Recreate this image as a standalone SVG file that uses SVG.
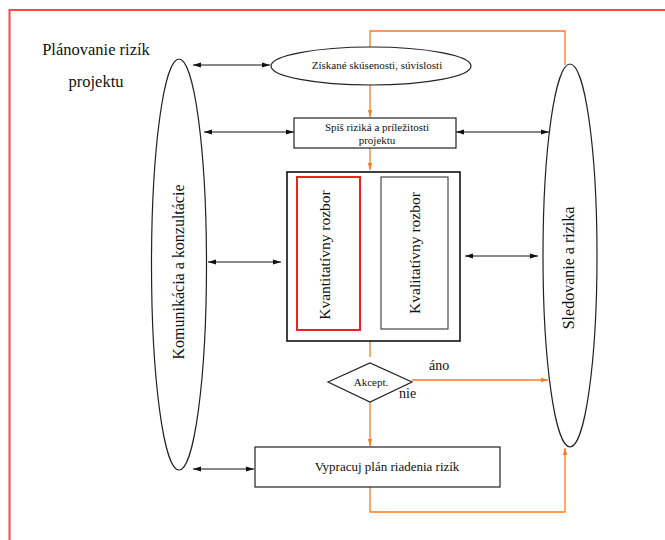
<svg xmlns="http://www.w3.org/2000/svg" width="665" height="540" viewBox="0 0 665 540">
<style>
.t{font-family:"Liberation Serif","Times New Roman",serif;fill:#111}
.b{fill:none;stroke:#111;stroke-width:1}
.n{fill:#fff;stroke:#222;stroke-width:1.2}
.o{fill:none;stroke:#ff7a1f;stroke-width:1.3}
</style>
<defs>
<marker id="ab" viewBox="0 0 8 6" refX="8" refY="3" markerWidth="8" markerHeight="6" markerUnits="userSpaceOnUse" orient="auto-start-reverse"><path d="M0,0.5 L8,3 L0,5.5 Z" fill="#111"/></marker>
<marker id="ao" viewBox="0 0 8 6" refX="8" refY="3" markerWidth="7" markerHeight="6" markerUnits="userSpaceOnUse" orient="auto"><path d="M0,0.5 L8,3 L0,5.5 Z" fill="#ff7a1f"/></marker>
</defs>
<rect x="0" y="0" width="665" height="540" fill="#fff"/>
<rect x="9.5" y="10" width="720" height="600" fill="none" stroke="#ff4545" stroke-width="2"/>
<g id="title">
<text class="t" x="96" y="55" font-size="16.5" text-anchor="middle">Plánovanie rizík</text>
<text class="t" x="96" y="87" font-size="16.5" text-anchor="middle">projektu</text>
</g>
<g id="connectors">
<path class="o" d="M565,65 V31 H370 V47"/>
<path class="o" d="M370,85 V117" marker-end="url(#ao)"/>
<path class="o" d="M370,148 V170" marker-end="url(#ao)"/>
<path class="o" d="M370,341 V357"/>
<path class="o" d="M412,380 H548" marker-end="url(#ao)"/>
<path class="o" d="M370,402 V446" marker-end="url(#ao)"/>
<path class="o" d="M370,487 V512 H565 V448" marker-end="url(#ao)"/>
<path class="b" d="M193,65 H270" marker-start="url(#ab)" marker-end="url(#ab)"/>
<path class="b" d="M204,132 H294" marker-start="url(#ab)" marker-end="url(#ab)"/>
<path class="b" d="M456,132 H549" marker-start="url(#ab)" marker-end="url(#ab)"/>
<path class="b" d="M208,262 H281" marker-start="url(#ab)" marker-end="url(#ab)"/>
<path class="b" d="M465,256 H538" marker-start="url(#ab)" marker-end="url(#ab)"/>
<path class="b" d="M193,469 H254" marker-start="url(#ab)" marker-end="url(#ab)"/>
</g>
<g id="komunikacia">
<ellipse class="n" cx="179" cy="264.5" rx="27.5" ry="205.5"/>
<text class="t" transform="translate(184,272) rotate(-90)" font-size="16" text-anchor="middle">Komunikácia a konzultácie</text>
</g>
<g id="sledovanie">
<ellipse class="n" cx="570" cy="255.5" rx="27" ry="191.5"/>
<text class="t" transform="translate(574,268) rotate(-90)" font-size="16" text-anchor="middle">Sledovanie a rizika</text>
</g>
<g id="ziskane">
<ellipse class="n" cx="371" cy="66" rx="100" ry="19"/>
<text class="t" x="377" y="69" font-size="11" text-anchor="middle">Získané skúsenosti, súvislosti</text>
</g>
<g id="spis">
<rect class="n" x="294" y="118" width="162" height="30"/>
<text class="t" x="377" y="131" font-size="11" text-anchor="middle">Spíš riziká a príležitosti</text>
<text class="t" x="377" y="144" font-size="11" text-anchor="middle">projektu</text>
</g>
<g id="rozbor">
<rect x="287" y="172" width="173" height="169" fill="#fff" stroke="#111" stroke-width="1.6"/>
<rect x="297" y="177" width="63" height="153" fill="#fff" stroke="#f02020" stroke-width="2"/>
<text class="t" transform="translate(330,255) rotate(-90)" font-size="15.5" text-anchor="middle">Kvantitatívny rozbor</text>
<rect x="381" y="177" width="67" height="152" fill="#fff" stroke="#222" stroke-width="1"/>
<text class="t" transform="translate(420,253) rotate(-90)" font-size="15.5" text-anchor="middle">Kvalitatívny rozbor</text>
</g>
<g id="akcept">
<polygon class="n" points="328,382 370,363 412,382 370,402"/>
<text class="t" x="371" y="386" font-size="11" text-anchor="middle">Akcept.</text>
</g>
<text class="t" x="429" y="370" font-size="14">áno</text>
<text class="t" x="399" y="398" font-size="14">nie</text>
<g id="vypracuj">
<rect class="n" x="255" y="447" width="245" height="40"/>
<text class="t" x="387" y="471" font-size="13" text-anchor="middle">Vypracuj plán riadenia rizík</text>
</g>
</svg>
